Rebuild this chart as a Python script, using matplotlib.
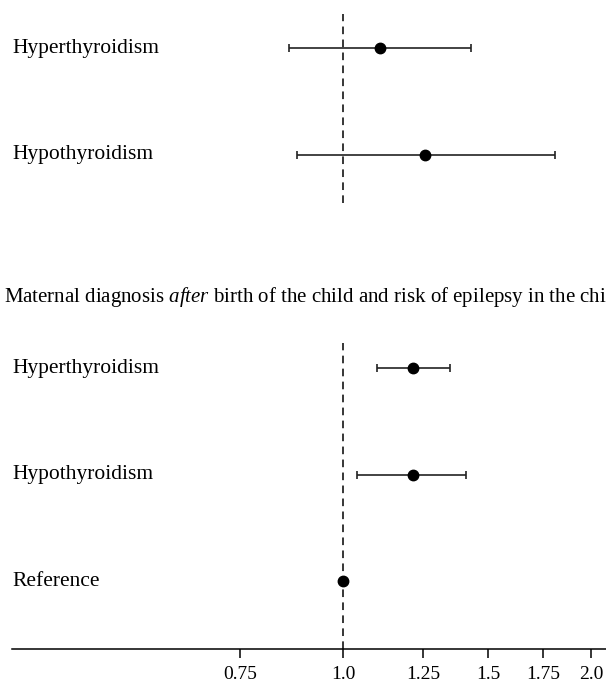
import numpy as np
import matplotlib
matplotlib.use('Agg')
import matplotlib.pyplot as plt
import matplotlib.transforms as mtransforms

plt.rcParams['font.family'] = 'Liberation Serif'
plt.rcParams['mathtext.fontset'] = 'custom'
plt.rcParams['mathtext.rm'] = 'Liberation Serif'
plt.rcParams['mathtext.it'] = 'Liberation Serif:italic'

# before birth panel (top)
before_labels = ['Hyperthyroidism', 'Hypothyroidism']
before_hr = [1.108, 1.257]
before_lo = [0.860, 0.879]
before_hi = [1.429, 1.808]

# after birth panel (bottom)
after_labels = ['Hyperthyroidism', 'Hypothyroidism', 'Reference']
after_hr = [1.217, 1.217, 1.0]
after_lo = [1.100, 1.039, np.nan]
after_hi = [1.348, 1.410, np.nan]

tick_vals = [0.75, 1.0, 1.25, 1.5, 1.75, 2.0]
tick_labels = ['0.75', '1.0', '1.25', '1.5', '1.75', '2.0']

title_after = r'Maternal diagnosis $\it{after}$ birth of the child and risk of epilepsy in the child'

fontsize = 15.5
W, H = 606, 685
fig = plt.figure(figsize=(W / 100, H / 100), dpi=100)

x_left, x_right = 0.3967, 2.085
ax_left = 12 / W
ax_top = fig.add_axes([ax_left, (H - 203) / H, 1 - ax_left, 189 / H])
ax_bot = fig.add_axes([ax_left, (H - 649) / H, 1 - ax_left, 306 / H])


def draw_panel(ax, labels, hr, lo, hi):
    y = np.arange(len(labels))
    lo = np.array(lo)
    hi = np.array(hi)
    hr = np.array(hr)
    err = np.vstack([hr - lo, hi - hr])
    ax.errorbar(hr, y, xerr=err, fmt='o', color='black', ecolor='#222222',
                elinewidth=1.2, capsize=3, capthick=1.2, markersize=7.5, zorder=3)
    ax.axvline(1.0, color='black', linestyle=(0, (5, 3.5)), linewidth=1.1, zorder=1)
    trans = mtransforms.blended_transform_factory(ax.transAxes, ax.transData)
    for yi, lab in zip(y, labels):
        ax.text(0.0, yi, lab, transform=trans, ha='left', va='center', fontsize=fontsize)
    ax.set_xscale('log')
    ax.set_xlim(x_left, x_right)
    ax.minorticks_off()
    for s in ['top', 'right', 'left']:
        ax.spines[s].set_visible(False)
    ax.set_yticks([])


draw_panel(ax_top, before_labels, before_hr, before_lo, before_hi)
ax_top.set_ylim(1.449, -0.318)
ax_top.spines['bottom'].set_visible(False)
ax_top.set_xticks([])

draw_panel(ax_bot, after_labels, after_hr, after_lo, after_hi)
ax_bot.set_ylim(2.638, -0.235)
ax_bot.spines['bottom'].set_linewidth(1.1)
ax_bot.set_xticks(tick_vals)
ax_bot.set_xticklabels(tick_labels, fontsize=14)
ax_bot.tick_params(axis='x', direction='out', length=6.5, width=1.1, pad=5.5)

# the reference crops this title at the right edge
fig.text(4 / W, 1 - 297 / H, title_after, ha='left', va='center', fontsize=15)

fig.savefig('out.png', dpi=100)
